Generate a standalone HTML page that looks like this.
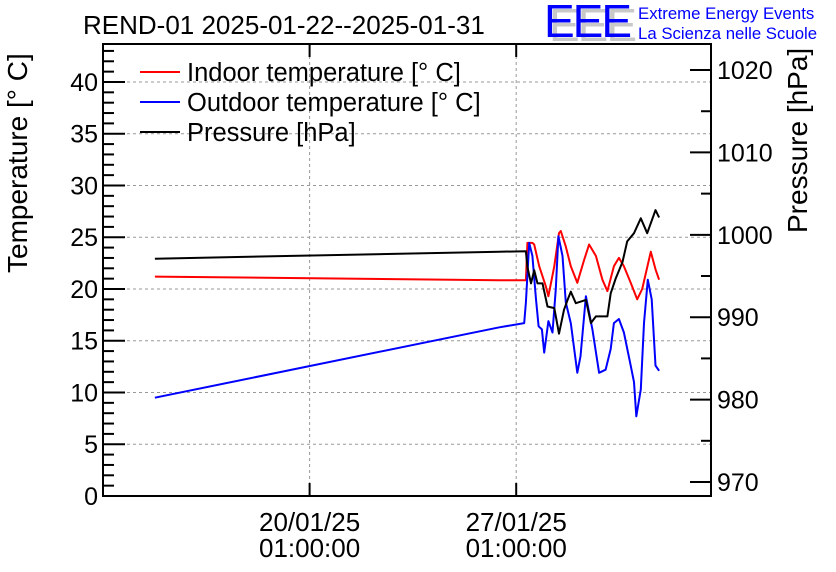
<!DOCTYPE html>
<html><head><meta charset="utf-8"><style>
body{margin:0;background:#fff;width:836px;height:572px;overflow:hidden}
svg{display:block;font-family:"Liberation Sans",sans-serif}
</style></head><body>
<svg id="chart" width="836" height="572" xmlns="http://www.w3.org/2000/svg">
<text x="83" y="34" font-size="26">REND-01 2025-01-22--2025-01-31</text>
<g>
<text x="549" y="41" font-size="46" fill="#c8c8c8" letter-spacing="-2">EEE</text>
<text x="544" y="37" font-size="46" fill="#0000ff" letter-spacing="-2">EEE</text>
<text x="638" y="19" font-size="16.8" fill="#0000ff">Extreme Energy Events</text>
<text x="638" y="39" font-size="16.8" fill="#0000ff">La Scienza nelle Scuole</text>
</g>
<g id="grid"></g>
<g id="series"></g>
<g id="axes"></g>
<text transform="translate(27,273) rotate(-90)" font-size="28">Temperature [° C]</text>
<text transform="translate(807,233) rotate(-90)" font-size="28">Pressure [hPa]</text>
<g>
<line x1="140" y1="72" x2="180" y2="72" stroke="#f00" stroke-width="2"/>
<text x="187" y="81" font-size="25.5">Indoor temperature [° C]</text>
<line x1="140" y1="102" x2="180" y2="102" stroke="#00f" stroke-width="2"/>
<text x="187" y="111" font-size="25.5">Outdoor temperature [° C]</text>
<line x1="140" y1="132" x2="180" y2="132" stroke="#000" stroke-width="2"/>
<text x="187" y="141" font-size="25.5">Pressure [hPa]</text>
</g>
</svg>
<script>
// days relative to 20/01/25 01:00
const xTickDays=[0,7];
const xTickLine1=["20/01/25","27/01/25"];
const xTickLine2=["01:00:00","01:00:00"];
const tempTicks=[0,5,10,15,20,25,30,35,40];
const presTicks=[970,980,990,1000,1010,1020];
const indoorDays=[-5.24,6.43,7.33,7.38,7.55,7.61,7.78,8.0,8.09,8.29,8.45,8.51,8.68,8.85,9.07,9.3,9.47,9.7,9.92,10.09,10.31,10.48,10.65,10.88,11.1,11.27,11.56,11.72,11.84];
const indoorTemp=[21.2,20.85,20.85,24.45,24.45,24.3,22.2,20.3,19.3,22.2,25.4,25.6,24.1,22.2,20.6,22.8,24.3,23.2,20.9,19.8,22.2,23.0,22.2,20.6,19.0,20.0,23.6,21.9,20.9];
const outdoorDays=[-5.24,6.43,7.27,7.33,7.44,7.55,7.67,7.76,7.87,7.95,8.09,8.23,8.34,8.43,8.57,8.68,8.85,9.07,9.18,9.36,9.58,9.81,10.03,10.2,10.31,10.48,10.65,10.88,10.99,11.07,11.22,11.33,11.46,11.59,11.72,11.84];
const outdoorTemp=[9.5,16.3,16.7,18.7,24.45,23.2,19.0,16.4,16.1,13.85,16.9,15.8,20.0,25.1,23.2,18.7,16.7,11.9,13.5,19.3,16.1,11.9,12.2,14.2,16.7,17.1,15.8,12.6,11.0,7.7,10.3,16.7,20.9,19.0,12.6,12.1];
const presDays=[-5.24,6.43,7.33,7.38,7.5,7.61,7.72,7.89,8.06,8.29,8.45,8.62,8.74,8.85,9.02,9.36,9.53,9.7,10.09,10.2,10.37,10.6,10.76,10.99,11.22,11.44,11.72,11.84];
const presVal=[997.1,997.95,998.0,996.1,994.1,995.7,994.1,994.1,991.3,991.1,988.0,990.9,992.1,993.1,991.7,992.1,989.3,990.1,990.1,992.9,994.7,996.7,999.2,1000.2,1002.0,1000.2,1003.0,1002.1];

const L=103,R=711,T=44,B=496;
const xMin=-7.0,xMax=13.6,tMin=0,tMax=43.67,pMin=968.3,pMax=1023.16;
const X=d=>L+(d-xMin)/(xMax-xMin)*(R-L);
const YT=v=>B-(v-tMin)/(tMax-tMin)*(B-T);
const YP=v=>B-(v-pMin)/(pMax-pMin)*(B-T);
const NS="http://www.w3.org/2000/svg";
function mk(tag,attrs,parent){const e=document.createElementNS(NS,tag);for(const k in attrs)e.setAttribute(k,attrs[k]);parent.appendChild(e);return e;}
const grid=document.getElementById('grid'),axes=document.getElementById('axes'),series=document.getElementById('series');
tempTicks.forEach(v=>{if(v>0){const g=mk('line',{x1:L,x2:R,y1:YT(v),y2:YT(v),stroke:'#999','stroke-dasharray':'3,3','stroke-width':1},grid);}});
xTickDays.forEach(d=>{const g=mk('line',{x1:X(d),x2:X(d),y1:T,y2:B,stroke:'#999','stroke-dasharray':'3,3','stroke-width':1},grid);});
function poly(xs,ys,fy,color,name){const p=mk('polyline',{points:xs.map((d,i)=>X(d).toFixed(1)+','+fy(ys[i]).toFixed(1)).join(' '),fill:'none',stroke:color,'stroke-width':2,'stroke-linejoin':'round'},series);}
poly(indoorDays,indoorTemp,YT,'#f00','indoor-temperature-line');
poly(outdoorDays,outdoorTemp,YT,'#00f','outdoor-temperature-line');
poly(presDays,presVal,YP,'#000','pressure-line');
const fr=mk('rect',{x:L,y:T,width:R-L,height:B-T,fill:'none',stroke:'#000','stroke-width':2},axes);

for(let v=0;v<=43;v++){const maj=v%5===0;mk('line',{x1:L,x2:L+(maj?22:11),y1:YT(v),y2:YT(v),stroke:'#000','stroke-width':2},axes);}
tempTicks.forEach(v=>{const t=mk('text',{x:L-5,y:YT(v)+9,'font-size':25,'text-anchor':'end'},axes);t.textContent=v;});
for(let v=970;v<=1020;v+=5){const maj=v%10===0;mk('line',{x1:R,x2:R-(maj?21:10),y1:YP(v),y2:YP(v),stroke:'#000','stroke-width':2},axes);}
presTicks.forEach(v=>{const t=mk('text',{x:R+6,y:YP(v)+9,'font-size':25},axes);t.textContent=v;});
xTickDays.forEach((d,i)=>{mk('line',{x1:X(d),x2:X(d),y1:B,y2:B-13,stroke:'#000','stroke-width':2},axes);mk('line',{x1:X(d),x2:X(d),y1:T,y2:T+13,stroke:'#000','stroke-width':2},axes);
const a=mk('text',{x:X(d),y:531,'font-size':26,'text-anchor':'middle'},axes);a.textContent=xTickLine1[i];
const b=mk('text',{x:X(d),y:557,'font-size':26,'text-anchor':'middle'},axes);b.textContent=xTickLine2[i];});
</script>
</body></html>
